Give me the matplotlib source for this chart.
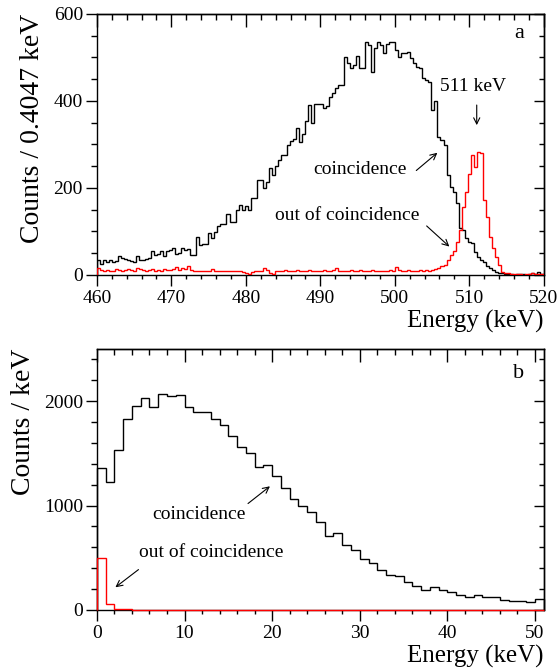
import numpy as np
import matplotlib.pyplot as plt
from matplotlib.ticker import MultipleLocator

plt.rcParams['font.family'] = ['Liberation Serif', 'DejaVu Serif']

# panel a: 0.4047 keV bins starting at 460 keV
bin_a = 0.4047
start_a = 460.0
coinc_a = [34, 26, 34, 29, 34, 29, 32, 44, 38, 36, 34, 32, 30, 44, 34, 35, 37, 39, 54, 45,
           49, 54, 44, 54, 57, 63, 49, 50, 61, 57, 60, 45, 45, 87, 68, 71, 71, 97, 86, 99,
           112, 118, 118, 141, 122, 122, 149, 160, 149, 158, 150, 176, 176, 218, 218, 201, 214, 247, 230, 250,
           264, 275, 275, 298, 308, 312, 337, 306, 325, 355, 391, 350, 393, 393, 394, 383, 388, 410, 418, 430,
           436, 436, 502, 487, 475, 483, 504, 475, 475, 535, 528, 467, 521, 535, 528, 510, 532, 535, 535, 517,
           500, 510, 510, 513, 498, 487, 478, 475, 452, 448, 444, 379, 400, 318, 310, 298, 229, 202, 190, 165,
           107, 103, 84, 76, 73, 53, 41, 34, 30, 20, 15, 11, 7, 5, 4, 3, 2, 3, 1, 2,
           3, 2, 1, 2, 4, 2, 6, 3, 2]
outcoinc_a = [16, 11, 10, 11, 9, 10, 13, 11, 9, 11, 13, 11, 9, 16, 13, 11, 9, 11, 13, 9,
              11, 9, 13, 11, 11, 14, 18, 12, 15, 13, 20, 12, 9, 10, 9, 10, 8, 10, 13, 9,
              9, 10, 8, 8, 8, 9, 8, 8, 6, 4, 3, 7, 8, 9, 10, 16, 12, 4, 3, 8,
              10, 9, 11, 8, 10, 9, 12, 10, 8, 9, 11, 10, 9, 8, 10, 12, 9, 10, 11, 16,
              10, 9, 10, 8, 11, 9, 10, 12, 9, 8, 10, 11, 9, 10, 8, 9, 10, 11, 9, 18,
              12, 10, 9, 11, 10, 9, 10, 12, 10, 11, 9, 12, 14, 15, 20, 22, 35, 45, 55, 75,
              103, 156, 190, 233, 275, 249, 283, 280, 172, 133, 87, 61, 41, 22, 7, 5, 4, 3, 2, 3,
              2, 1, 3, 2, 4, 3, 2, 3, 2]

# panel b: 1 keV bins from 0
coinc_b = [1361, 1224, 1534, 1825, 1952, 2033, 1946, 2064, 2048, 2055,
           1946, 1895, 1900, 1825, 1767, 1665, 1559, 1505, 1371, 1384,
           1285, 1170, 1058, 994, 936, 847, 712, 738, 626, 571,
           489, 450, 386, 338, 322, 265, 233, 188, 217, 195,
           169, 147, 121, 147, 124, 124, 92, 82, 82, 72, 105]
outcoinc_b = [499, 58, 8, 6, 0, 0, 0, 0, 0, 0,
              0, 0, 0, 0, 0, 0, 0, 0, 0, 0,
              0, 0, 0, 0, 0, 0, 0, 0, 0, 0,
              0, 0, 0, 0, 0, 0, 0, 0, 0, 0,
              0, 0, 0, 0, 0, 0, 0, 0, 0, 0, 0]

edges_a = start_a + bin_a * np.arange(len(coinc_a) + 1)
edges_b = np.arange(len(coinc_b) + 1)

fig = plt.figure(figsize=(5.6, 6.7), dpi=100)
ax1 = fig.add_axes([0.173, 0.5896, 0.798, 0.3896])
ax2 = fig.add_axes([0.173, 0.0896, 0.798, 0.3896])


def style(ax, xmaj, xmin, ymaj, ymin):
    for s in ax.spines.values():
        s.set_linewidth(1.0)
    ax.xaxis.set_major_locator(MultipleLocator(xmaj))
    ax.xaxis.set_minor_locator(MultipleLocator(xmin))
    ax.yaxis.set_major_locator(MultipleLocator(ymaj))
    ax.yaxis.set_minor_locator(MultipleLocator(ymin))
    ax.tick_params(axis='x', which='major', direction='out', length=8, width=1, labelsize=14, pad=3)
    ax.tick_params(axis='x', which='minor', direction='out', length=3, width=1)
    ax.tick_params(axis='y', which='major', direction='out', length=8, width=1, labelsize=14, pad=2)
    ax.tick_params(axis='y', which='minor', direction='out', length=4, width=1)
    # ticks on top/right point inwards
    top = ax.secondary_xaxis('top')
    top.xaxis.set_major_locator(MultipleLocator(xmaj))
    top.xaxis.set_minor_locator(MultipleLocator(xmin))
    top.tick_params(which='major', direction='in', length=9, width=1, labeltop=False)
    top.tick_params(which='minor', direction='in', length=4.5, width=1)
    top.spines['top'].set_linewidth(1.0)
    right = ax.secondary_yaxis('right')
    right.yaxis.set_major_locator(MultipleLocator(ymaj))
    right.yaxis.set_minor_locator(MultipleLocator(ymin))
    right.tick_params(which='major', direction='in', length=7, width=1, labelright=False)
    right.tick_params(which='minor', direction='in', length=3.5, width=1)
    right.spines['right'].set_linewidth(1.0)


arrow = dict(arrowstyle='->', lw=0.8, color='k', mutation_scale=11)

# ---- panel a
ax1.stairs(coinc_a, edges_a, color='black', lw=1.0, baseline=0, zorder=3)
ax1.stairs(outcoinc_a, edges_a, color='red', lw=1.0, baseline=0, zorder=3)
ax1.set_xlim(460, 520)
ax1.set_ylim(0, 600)
style(ax1, 10, 2, 200, 50)
ax1.set_xlabel('Energy (keV)', loc='right', fontsize=18, labelpad=2)
ax1.set_ylabel('Counts / 0.4047 keV', loc='top', fontsize=20, labelpad=6)
ax1.text(517.4, 555, 'a', fontsize=16, ha='right', va='center')
ax1.text(510.5, 433, '511 keV', fontsize=14, ha='center', va='center')
ax1.annotate('', xy=(511.0, 338), xytext=(511.0, 397), arrowprops=arrow)
ax1.text(495.3, 243, 'coincidence', fontsize=14, ha='center', va='center')
ax1.annotate('', xy=(506.0, 285), xytext=(502.6, 236), arrowprops=arrow)
ax1.text(493.6, 137, 'out of coincidence', fontsize=14, ha='center', va='center')
ax1.annotate('', xy=(507.6, 61), xytext=(504.0, 117), arrowprops=arrow)

# ---- panel b
ax2.stairs(coinc_b, edges_b, color='black', lw=1.0, baseline=0, zorder=3, clip_on=False)
ax2.stairs(outcoinc_b, edges_b, color='red', lw=1.0, baseline=0, zorder=3, clip_on=False)
ax2.set_xlim(0, 51)
ax2.set_ylim(0, 2500)
style(ax2, 10, 2, 1000, 200)
ax2.set_xlabel('Energy (keV)', loc='right', fontsize=18, labelpad=2)
ax2.set_ylabel('Counts / keV', loc='top', fontsize=20, labelpad=6)
ax2.text(48.8, 2260, 'b', fontsize=16, ha='right', va='center')
ax2.text(11.7, 914, 'coincidence', fontsize=14, ha='center', va='center')
ax2.annotate('', xy=(20.0, 1201), xytext=(17.0, 1003), arrowprops=arrow)
ax2.text(13.1, 549, 'out of coincidence', fontsize=14, ha='center', va='center')
ax2.annotate('', xy=(1.86, 201), xytext=(5.0, 403), arrowprops=arrow)

fig.savefig('out.png', dpi=100)
